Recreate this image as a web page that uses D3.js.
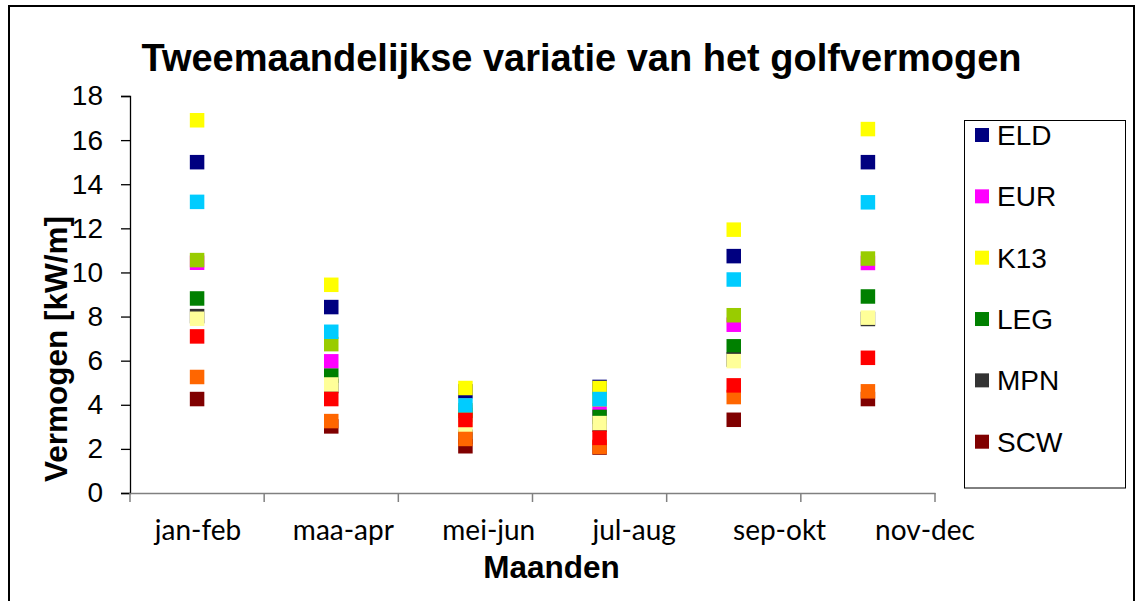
<!DOCTYPE html>
<html><head><meta charset="utf-8">
<script src="https://cdn.jsdelivr.net/npm/d3@7"></script>
<style>html,body{margin:0;padding:0;background:#fff;overflow:hidden}</style>
</head><body>
<svg id="chart" width="1139" height="601"></svg>
<script>
// ---- data ----
const categories = ["jan-feb","maa-apr","mei-jun","jul-aug","sep-okt","nov-dec"];
const yTicks = [0,2,4,6,8,10,12,14,16,18];
// series shown in legend
const ELD = [15.0, 8.43, 4.61, 4.81, 10.74, 15.0];
const EUR = [10.44, 5.97, 3.67, 3.60, 7.63, 10.43];
const K13 = [16.9, 9.44, 4.76, 4.76, 11.94, 16.5];
const LEG = [8.82, 5.32, 3.54, 3.45, 6.65, 8.91];
const MPN = [8.02, 4.85, 2.55, 3.10, 6.05, 7.89];
const SCW = [4.26, 3.02, 2.12, 2.06, 3.32, 4.26];
// further series (legend entries cut off in the original)
const YM6 = [10.56, 6.75, 3.75, 4.25, 8.06, 10.63];
const AUK = [13.2, 7.31, 3.97, 4.26, 9.68, 13.18];
const IJM = [7.90, 4.92, 3.08, 3.17, 5.98, 7.95];
const D15 = [5.26, 3.26, 2.45, 2.09, 4.35, 4.61];
const A12 = [7.10, 4.26, 3.31, 2.50, 4.88, 6.13];

const seriesNames = ["ELD","EUR","K13","LEG","MPN","SCW","YM6","AUK","IJM","D15","A12"];
const seriesValues = [ELD,EUR,K13,LEG,MPN,SCW,YM6,AUK,IJM,D15,A12];
const seriesColors = ["#000080","#FF00FF","#FFFF00","#008000","#333333","#800000",
                      "#99CC00","#00CCFF","#FFFF99","#FF6600","#FF0000"];
const legendNames = ["ELD","EUR","K13","LEG","MPN","SCW"];

const titleText = "Tweemaandelijkse variatie van het golfvermogen";
const xTitle = "Maanden";
const yTitle = "Vermogen [kW/m]";

// ---- drawing ----
const svg = d3.select("#chart");
const arial = "'Liberation Sans', Arial, sans-serif";
const calibri = "Lato, 'Open Sans', sans-serif";

// outer frame
svg.append("rect").attr("x",9).attr("y",6).attr("width",1125).attr("height",620)
  .attr("fill","#fff").attr("stroke","#000").attr("stroke-width",2);

const x = d3.scaleBand().domain(categories).range([130,935]).paddingInner(0).paddingOuter(0);
const y = d3.scaleLinear().domain([0,18]).range([493,96]);
// category labels are spread a little wider than the plot bands in the original
const xLabel = d3.scalePoint().domain(categories).range([198,925]);

// y axis
const yAxis = svg.append("g").attr("transform","translate(130,0)")
  .call(d3.axisLeft(y).tickValues(yTicks).tickSize(9).tickPadding(18));
yAxis.select(".domain").attr("stroke","#000").attr("stroke-width",1.3);
yAxis.selectAll(".tick line").attr("stroke","#000").attr("stroke-width",1.3);
yAxis.selectAll(".tick text").attr("font-family",arial).attr("font-size",28).attr("fill","#000");

// x axis
const xAxis = svg.append("g").attr("transform","translate(0,493)")
  .call(d3.axisBottom(x).tickSize(0).tickPadding(0));
xAxis.select(".domain").attr("stroke","#808080").attr("stroke-width",1.5);
xAxis.selectAll(".tick text").remove();
// boundary tick marks
const bounds = categories.map(c => x(c)).concat([x.range()[1]]);
xAxis.selectAll("line.bt").data(bounds).enter().append("line").attr("class","bt")
  .attr("x1",d=>d).attr("x2",d=>d).attr("y1",0).attr("y2",9)
  .attr("stroke","#808080").attr("stroke-width",1.5);
xAxis.selectAll("text.cl").data(categories).enter().append("text").attr("class","cl")
  .attr("x",d=>xLabel(d)).attr("y",47)
  .attr("text-anchor","middle").attr("font-family",calibri).attr("font-size",28)
  .attr("fill","#000").text(d=>d);

// markers
const size = 14.5;
seriesValues.forEach((vals,i)=>{
  svg.append("g").selectAll("rect").data(vals).enter().append("rect")
    .attr("x",(d,j)=>x(categories[j])+x.bandwidth()/2-size/2)
    .attr("y",d=>y(d)-size/2)
    .attr("width",size).attr("height",size)
    .attr("fill",seriesColors[i]);
});

// titles
svg.append("text").attr("x",581.5).attr("y",71).attr("text-anchor","middle")
  .attr("font-family",arial).attr("font-weight","bold").attr("font-size",38).text(titleText);
svg.append("text").attr("x",551.5).attr("y",578).attr("text-anchor","middle")
  .attr("font-family",arial).attr("font-weight","bold").attr("font-size",31.5).text(xTitle);
svg.append("text").attr("transform","translate(67,349) rotate(-90)").attr("text-anchor","middle")
  .attr("font-family",arial).attr("font-weight","bold").attr("font-size",31.5).text(yTitle);

// legend
const lg = svg.append("g");
lg.append("rect").attr("x",964.5).attr("y",120.5).attr("width",161).attr("height",367.5)
  .attr("fill","#fff").attr("stroke","#000").attr("stroke-width",1);
const ly = d3.scalePoint().domain(legendNames).range([135,441.7]);
legendNames.forEach(n=>{
  const i = seriesNames.indexOf(n);
  lg.append("rect").attr("x",975).attr("y",ly(n)-7).attr("width",14).attr("height",14)
    .attr("fill",seriesColors[i]);
  lg.append("text").attr("x",997).attr("y",ly(n)+10).attr("font-family",arial)
    .attr("font-size",28).attr("fill","#000").text(n);
});
</script>
</body></html>
